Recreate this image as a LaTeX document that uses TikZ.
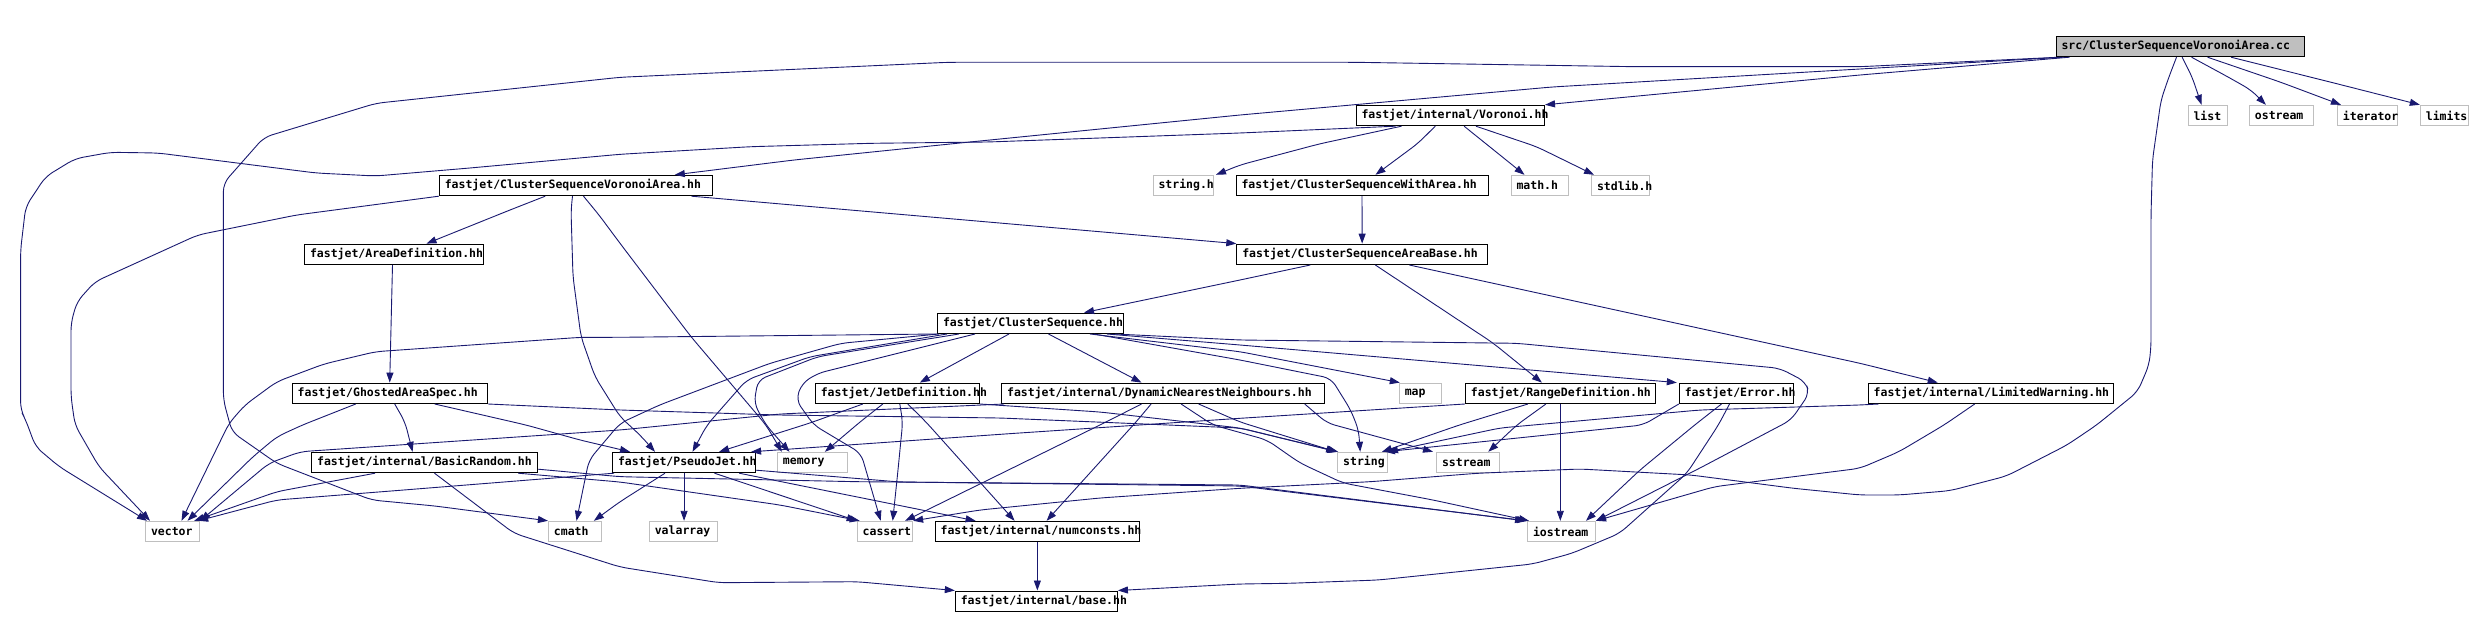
\documentclass[tikz,border=0pt]{standalone}
\usepackage{fontspec}
\newfontfamily\dmono{DejaVu Sans Mono Bold}
\usetikzlibrary{arrows.meta,calc}
\definecolor{edgecol}{HTML}{191970}
\definecolor{sysgray}{HTML}{BFBFBF}
\tikzset{
  dep/.style={draw=edgecol, line width=0.9pt, rounded corners=8pt, -{Triangle[length=10pt,width=7pt]}},
  hdr/.style={draw=black, fill=white, line width=1pt, inner xsep=5.5pt, inner ysep=0pt, minimum height=20.4pt, align=left, font=\dmono\fontsize{11.5}{12}\selectfont},
  sys/.style={hdr, draw=sysgray},
  root/.style={hdr, fill=sysgray},
}
\begin{document}
\begin{tikzpicture}[x=1pt,y=-1pt]
\useasboundingbox (0,0) rectangle (2473,628);
% nodes
\node[root, text width=237pt] (src) at (2180,46.5) {\mbox{src/ClusterSequenceVoronoiArea.cc}};
\node[sys, text width=28.5pt] (list) at (2207.75,115.5) {\mbox{list}};
\node[sys, text width=53.2pt] (ostream) at (2281.5,115.5) {\mbox{ostream}};
\node[sys, text width=49.2pt] (iterator) at (2367.5,115.5) {\mbox{iterator}};
\node[sys, text width=37.5pt] (limits) at (2444.55,115.5) {\mbox{limits}};
\node[hdr, text width=177.5pt] (voronoi) at (1450.25,115.5) {\mbox{fastjet/internal/Voronoi.hh}};
\node[hdr, text width=262.2pt] (csva) at (575.9,185.5) {\mbox{fastjet/ClusterSequenceVoronoiArea.hh}};
\node[sys, text width=49.5pt] (stringh) at (1183.25,185.5) {\mbox{string.h}};
\node[hdr, text width=241pt] (cswa) at (1362,185.5) {\mbox{fastjet/ClusterSequenceWithArea.hh}};
\node[sys, text width=46.6pt] (mathh) at (1539.8,185.5) {\mbox{math.h}};
\node[sys, text width=47.1pt] (stdlibh) at (1620.55,185.5) {\mbox{stdlib.h}};
\node[hdr, text width=168.1pt] (areadef) at (394.05,254.3) {\mbox{fastjet/AreaDefinition.hh}};
\node[hdr, text width=239.7pt] (csab) at (1362.15,254.3) {\mbox{fastjet/ClusterSequenceAreaBase.hh}};
\node[hdr, text width=174.8pt] (cs) at (1030.4,323.3) {\mbox{fastjet/ClusterSequence.hh}};
\node[hdr, text width=184.3pt] (gas) at (389.85,393.3) {\mbox{fastjet/GhostedAreaSpec.hh}};
\node[hdr, text width=153.1pt] (jetdef) at (897.35,393.3) {\mbox{fastjet/JetDefinition.hh}};
\node[hdr, text width=311.6pt] (dnn) at (1162.9,393.3) {\mbox{fastjet/internal/DynamicNearestNeighbours.hh}};
\node[sys, text width=31pt] (map) at (1420.3,393.3) {\mbox{map}};
\node[hdr, text width=178.8pt] (rangedef) at (1560.3,393.3) {\mbox{fastjet/RangeDefinition.hh}};
\node[hdr, text width=103.3pt] (error) at (1736.45,393.3) {\mbox{fastjet/Error.hh}};
\node[hdr, text width=234.2pt] (lw) at (1990.8,393.3) {\mbox{fastjet/internal/LimitedWarning.hh}};
\node[hdr, text width=215.1pt] (basicrandom) at (424.65,462.5) {\mbox{fastjet/internal/BasicRandom.hh}};
\node[hdr, text width=132.1pt] (pseudojet) at (684.05,462.5) {\mbox{fastjet/PseudoJet.hh}};
\node[sys, text width=59.4pt] (memory) at (812.6,462.5) {\mbox{memory}};
\node[sys, text width=38.8pt] (string) at (1362.6,462.5) {\mbox{string}};
\node[sys, text width=52.3pt] (sstream) at (1468.15,462.5) {\mbox{sstream}};
\node[sys, text width=43.2pt] (vector) at (172.6,531.5) {\mbox{vector}};
\node[sys, text width=42pt] (cmath) at (574.9,531.5) {\mbox{cmath}};
\node[sys, text width=57pt] (valarray) at (683.3,531.5) {\mbox{valarray}};
\node[sys, text width=44.4pt] (cassert) at (884.9,531.5) {\mbox{cassert}};
\node[hdr, text width=193.5pt] (numconsts) at (1037.35,531.5) {\mbox{fastjet/internal/numconsts.hh}};
\node[sys, text width=57pt] (iostream) at (1561.5,531.5) {\mbox{iostream}};
\node[hdr, text width=151.1pt] (base) at (1036.35,601.2) {\mbox{fastjet/internal/base.hh}};
% edges from src
\draw[dep] ($(src.south west)+(14,0)$) -- (1860,75) -- (voronoi.north east);
\draw[dep] ($(src.south west)+(8,0)$) -- (1860,69) -- (1552,87) -- (1240,115) -- (960,143) -- (794,160) -- ($(csva.north west)+(236,0)$);
\draw[dep] ($(src.south west)+(4,0)$) -- (1860,66.7) -- (1635,66.7) -- (1355,62.3) -- (948,62.3) -- (620,77.3) -- (376,103.3) -- (264,137.3) -- (223.4,183.3) -- (223.4,400) -- (232,432) -- (276.8,463.3) -- (371.7,500) -- (435,506) -- (cmath.north west);
\draw[dep] ($(src.south west)+(121,0)$) -- (2169,76.7) -- (2161,100) -- (2152.5,160) -- (2151,215) -- (2151,346.7) -- (2149,365) -- (2137.6,391.7) -- (2096.6,425) -- (2067,445) -- (2006.6,476) -- (1950,490.7) -- (1899,495) -- (1860,495) -- (1793.6,488.3) -- (1690.8,475) -- (1580,469) -- (1477,473.3) -- (1370.5,481.7) -- (1240,488.3) -- (1100,498) -- (980,510) -- (cassert.north east);
\draw[dep] ($(src.south west)+(126.6,0)$) -- (2192,76.7) -- ($(list.north west)+(14,0)$);
\draw[dep] ($(src.south west)+(136,0)$) -- (2227.5,76.7) -- (2251,90) -- ($(ostream.north west)+(17,0)$);
\draw[dep] ($(src.south west)+(152,0)$) -- (2280,82) -- ($(iterator.north west)+(4,0)$);
\draw[dep] ($(src.south west)+(175.5,0)$) -- (2330,82) -- (limits.north west);
% Voronoi
\draw[dep] ($(voronoi.south west)+(46,0)$) -- (1319,144) -- (1240,165) -- ($(stringh.north east)+(2,0)$);
\draw[dep] ($(voronoi.south west)+(79.7,0)$) -- (1418,143.3) -- ($(cswa.north west)+(140,0)$);
\draw[dep] ($(voronoi.south west)+(108.6,0)$) -- (1485,143) -- ($(mathh.north west)+(14,0)$);
\draw[dep] ($(voronoi.south west)+(120.4,0)$) -- (1536.6,146.7) -- ($(stdlibh.north west)+(3,0)$);
\draw[dep] ($(voronoi.south west)+(40,0)$) -- (1240,133) -- (988,142) -- (871.5,143.3) -- (750.5,146.7) -- (620,154.3) -- (470,168) -- (375.6,176) -- (316,173) -- (158,153) -- (110.7,152.3) -- (75,158.7) -- (45.5,176.7) -- (25.7,206.7) -- (20.6,250) -- (20.6,410) -- (25.7,420) -- (35.6,446.7) -- (59.3,466.7) -- ($(vector.north west)+(2,0)$);
% CSVA
\draw[dep] ($(csva.south west)+(106.4,0)$) -- (510,210) -- ($(areadef.north west)+(122.5,0)$);
\draw[dep] ($(csva.south east)+(-21.5,0)$) -- (csab.north west);
\draw[dep] (csva.south west) -- (296.6,215) -- (197.7,235) -- (95,281.7) -- (77,301.7) -- (71,323) -- (71,396.7) -- (75,425) -- (99,466.7) -- ($(vector.north west)+(5,0)$);
\draw[dep] ($(csva.south west)+(133.7,0)$) -- (571,210) -- (573,276.7) -- (581,336.7) -- (595,376.7) -- (620,416.7) -- (640,435) -- ($(pseudojet.north west)+(43,0)$);
\draw[dep] ($(csva.south west)+(144.7,0)$) -- (599,215) -- (620,243.3) -- (691,336.7) -- (766,425) -- ($(memory.north west)+(5,0)$);
% CSWA, AreaDef, CSAB
\draw[dep] (cswa.south) -- (csab.north);
\draw[dep] ($(areadef.south west)+(88.5,0)$) -- ($(gas.north west)+(98,0)$);
\draw[dep] ($(csab.south west)+(74,0)$) -- (1240,280) -- ($(cs.north west)+(147,0)$);
\draw[dep] ($(csab.south west)+(139,0)$) -- (1493,343) -- ($(rangedef.north west)+(77,0)$);
\draw[dep] ($(csab.south west)+(173,0)$) -- (1860,363.3) -- ($(lw.north west)+(70,0)$);
% GAS
\draw[dep] ($(gas.south west)+(103,0)$) -- (405,422) -- ($(basicrandom.north west)+(101.5,0)$);
\draw[dep] ($(gas.south west)+(64,0)$) -- (302.5,425) -- (277,436.7) -- (253,456.7) -- ($(vector.north west)+(42.5,0)$);
\draw[dep] ($(gas.south west)+(143,0)$) -- (526,425) -- (580,440) -- ($(pseudojet.north west)+(18,0)$);
\draw[dep] (gas.south east) -- (620,410) -- (778,415) -- (1000,418) -- (1240,428) -- (string.north west);
% ClusterSequence
\draw[dep] (cs.south west) -- (620,337.3) -- (581,337.3) -- (375.6,351.7) -- (324,364) -- (276.8,381.7) -- (245,405) -- (229,423.3) -- ($(vector.north west)+(36.5,0)$);
\draw[dep] ($(cs.south west)+(2,0)$) -- (841,343.3) -- (770,363.3) -- (659.5,405) -- (620,423.3) -- (589,460) -- ($(cmath.north west)+(28.6,0)$);
\draw[dep] ($(cs.south west)+(10,0)$) -- (810,356.7) -- (746.5,380) -- (707,425) -- ($(pseudojet.north west)+(80.5,0)$);
\draw[dep] ($(cs.south west)+(22,0)$) -- (817.7,356.7) -- (758,380) -- (754,403.3) -- (766,425) -- ($(memory.north west)+(12.6,0)$);
\draw[dep] ($(cs.south west)+(38,0)$) -- (817.7,373.3) -- (802,383.3) -- (796,400) -- (813.7,425) -- (861,453.3) -- ($(cassert.north west)+(24,0)$);
\draw[dep] ($(cs.south west)+(72,0)$) -- ($(jetdef.north west)+(105,0)$);
\draw[dep] ($(cs.south west)+(111.5,0)$) -- ($(dnn.north west)+(140.4,0)$);
\draw[dep] ($(cs.south west)+(153,0)$) -- (1240,351.7) -- ($(map.north west)+(1,0)$);
\draw[dep] ($(cs.south west)+(157,0)$) -- (1240,360) -- (1331,378.3) -- (1350.7,410) -- (1358.6,430) -- ($(string.north west)+(23,0)$);
\draw[dep] ($(cs.south east)+(-17,0)$) -- (1240,345) -- ($(error.north west)+(-2,0)$);
\draw[dep] ($(cs.south east)+(-9,0)$) -- (1240,340) -- (1516.8,343.3) -- (1779.7,368.3) -- (1805.4,381.7) -- (1809.4,393.3) -- (1791,420) -- (1700,468) -- (iostream.north east);
% JetDefinition
\draw[dep] ($(jetdef.south west)+(48,0)$) -- (810,423) -- ($(pseudojet.north east)+(-37,0)$);
\draw[dep] ($(jetdef.south west)+(68,0)$) -- (860,422) -- ($(memory.north west)+(48,0)$);
\draw[dep] ($(jetdef.south west)+(85,0)$) -- (902.7,422) -- (898,470) -- ($(cassert.north west)+(36,0)$);
\draw[dep] ($(jetdef.south west)+(93,0)$) -- (926,422) -- ($(numconsts.north west)+(80,0)$);
\draw[dep] (jetdef.south east) -- (1100,412) -- (1240,428) -- ($(string.north west)+(1,0)$);
% DNN
\draw[dep] ($(dnn.south west)+(3,0)$) -- (780,414) -- (620,430) -- (300.5,451.7) -- (268.9,463.3) -- (vector.north east);
\draw[dep] ($(dnn.south west)+(140.4,0)$) -- (1106,422) -- ($(cassert.north east)+(-8,0)$);
\draw[dep] ($(dnn.south west)+(150,0)$) -- (1136,422) -- ($(numconsts.north west)+(112,0)$);
\draw[dep] ($(dnn.south west)+(180,0)$) -- (1213,425) -- (1267,440) -- (1300,463) -- (1343,483) -- (1433,500) -- ($(iostream.north west)+(2,0)$);
\draw[dep] ($(dnn.south west)+(197.5,0)$) -- (1240,422) -- ($(string.north west)+(-1,0)$);
\draw[dep] ($(dnn.south east)+(-20,0)$) -- (1327,423) -- ($(sstream.north west)+(-3,0)$);
% RangeDefinition
\draw[dep] (rangedef.south west) -- (1240,418.3) -- (1015,433.3) -- ($(pseudojet.north east)+(-5,0)$);
\draw[dep] ($(rangedef.south west)+(63,0)$) -- (1459.4,425) -- ($(string.north east)+(-6,0)$);
\draw[dep] ($(rangedef.south west)+(81,0)$) -- (1516.8,425) -- ($(sstream.north east)+(-12,0)$);
\draw[dep] (rangedef.south) -- (rangedef.south |- iostream.north);
% Error
\draw[dep] (error.south west) -- (1643,425) -- ($(string.north east)+(-3,0)$);
\draw[dep] ($(error.south west)+(42.7,0)$) -- (1694.7,425) -- (1640,470) -- ($(iostream.north east)+(-10,0)$);
\draw[dep] ($(error.south west)+(50.7,0)$) -- (1718.4,425) -- (1686.8,473.3) -- (1619.6,533.3) -- (1572,553.3) -- (1532.6,564) -- (1378.4,580) -- (1289.4,583.3) -- (1240,584) -- (base.north east);
% LimitedWarning
\draw[dep] ($(lw.south west)+(11,0)$) -- (1860,405) -- (1700,410) -- (1500,428) -- (string.north east);
\draw[dep] ($(lw.south west)+(107,0)$) -- (1944,425) -- (1899,451.7) -- (1860,468.3) -- (1714.5,486.7) -- (iostream.north east);
% PseudoJet
\draw[dep] (pseudojet.south) -- (pseudojet.south |- valarray.north);
\draw[dep] ($(pseudojet.south west)+(2,0)$) -- (395,490.7) -- (276.8,500) -- ($(vector.north east)+(-2,0)$);
\draw[dep] ($(pseudojet.south west)+(53,0)$) -- (620,501.7) -- ($(cmath.north east)+(-8,0)$);
\draw[dep] ($(pseudojet.south west)+(102.5,0)$) -- (cassert.north west);
\draw[dep] ($(pseudojet.south east)+(-17,0)$) -- ($(numconsts.north west)+(41,0)$);
\draw[dep] ($(pseudojet.south east)+(0,-3)$) -- (900,482) -- (1240,486) -- (iostream.north west);
% BasicRandom
\draw[dep] ($(basicrandom.south west)+(64,0)$) -- (276.8,491.7) -- ($(vector.north east)+(-6,0)$);
\draw[dep] ($(basicrandom.south east)+(-20,0)$) -- (620,482) -- (780,505) -- ($(cassert.north west)+(3,0)$);
\draw[dep] ($(basicrandom.south east)+(0,-4)$) -- (620,476.7) -- (857,481.7) -- (1240,485) -- ($(iostream.north west)+(-2,0)$);
\draw[dep] ($(basicrandom.south west)+(123.4,0)$) -- (514,533.3) -- (620,567) -- (718.9,582.7) -- (857,581.7) -- (base.north west);
% numconsts
\draw[dep] (numconsts.south) -- (numconsts.south |- base.north);
\end{tikzpicture}
\end{document}
